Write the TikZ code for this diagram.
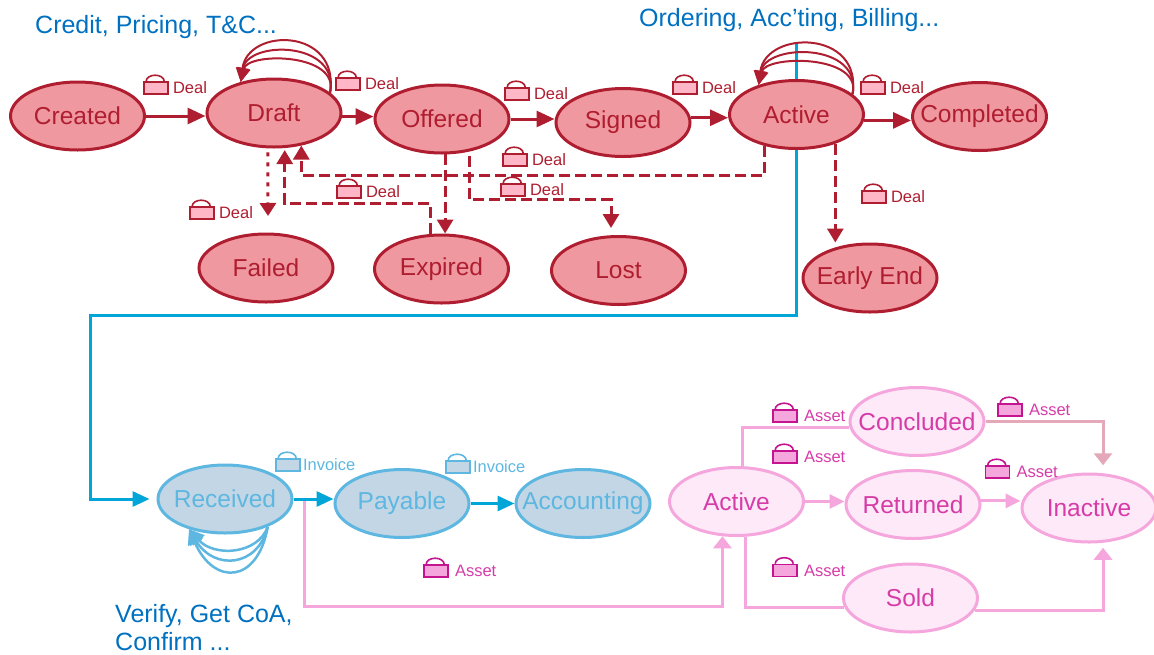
\documentclass[tikz,border=0pt]{standalone}
\usepackage{fontspec}
\setmainfont{Liberation Sans}
\usepackage{tikz}
\usetikzlibrary{positioning, arrows.meta, shapes.geometric, backgrounds}
\definecolor{dealline}{HTML}{AF1E30}
\definecolor{dealfill}{HTML}{F0989F}
\definecolor{dealbag}{HTML}{FFB6C6}
\definecolor{invline}{HTML}{5DB7E0}
\definecolor{invfill}{HTML}{C3D6E5}
\definecolor{invarrow}{HTML}{00A6D8}
\definecolor{assetline}{HTML}{F5A6DC}
\definecolor{assetfill}{HTML}{FDE9F7}
\definecolor{assettext}{HTML}{D63CA8}
\definecolor{assetbag}{HTML}{C4148F}
\definecolor{assetmute}{HTML}{E5A8B8}
\definecolor{notetext}{HTML}{0070C0}

\begin{document}
\begin{tikzpicture}[x=1pt, y=-1pt,
    state/.style={ellipse, line width=3pt, minimum width=134pt, minimum height=68pt, inner xsep=-45pt, inner ysep=-12pt, font=\fontsize{24.5}{28}\selectfont},
    dealstate/.style={state, draw=dealline, fill=dealfill, text=dealline},
    invstate/.style={state, draw=invline, fill=invfill, text=invline},
    assetstate/.style={state, draw=assetline, fill=assetfill, text=assettext},
    bag/.style={rectangle, line width=1.6pt, minimum width=24pt, minimum height=12pt, inner sep=0pt},
    baglabel/.style={inner sep=0pt, font=\fontsize{16.5}{18}\selectfont},
    note/.style={inner sep=0pt, anchor=west, align=left, text=notetext, font=\fontsize{25}{28}\selectfont},
    dealarrow/.style={draw=dealline, line width=3pt, -{Triangle[length=18pt,width=16pt]}},
    dealdash/.style={dealarrow, dash pattern=on 11pt off 5pt, -{Triangle[length=14pt,width=16pt]}},
    dealdot/.style={dealarrow, dash pattern=on 4pt off 6pt, -{Triangle[length=13pt,width=16pt]}},
    invarrowline/.style={draw=invarrow, line width=3pt, -{Triangle[length=17pt,width=15pt]}},
    assetarrow/.style={draw=assetline, line width=3pt, -{Triangle[length=12pt,width=18pt]}},
    assetside/.style={draw=assetline, line width=3pt, -{Triangle[length=15pt,width=14pt]}},
    assetplain/.style={draw=assetline, line width=3pt}]
    \useasboundingbox (0,0) rectangle (1154,654);

    % deal states
    \node[dealstate] (Created) at (77.5,116) {Created};
    \node[dealstate] (Draft) at (274,113) {Draft};
    \node[dealstate] (Offered) at (442,119) {Offered};
    \node[dealstate] (Signed) at (623,122.5) {Signed};
    \node[dealstate] (Active) at (796.5,114.5) {Active};
    \node[dealstate] (Completed) at (979.5,116.5) {Completed};
    \node[dealstate] (Failed) at (266,268) {Failed};
    \node[dealstate] (Expired) at (441.5,269) {Expired};
    \node[dealstate] (Lost) at (618.5,270.5) {Lost};
    \node[dealstate] (EarlyEnd) at (870,278) {Early End};

    % invoice states
    \node[invstate] (Received) at (225,499) {Received};
    \node[invstate] (Payable) at (402,503.5) {Payable};
    \node[invstate] (Accounting) at (583,503.5) {Accounting};

    % asset states
    \node[assetstate] (AssetActive) at (736.5,501.5) {Active};
    \node[assetstate] (Concluded) at (917,421.5) {Concluded};
    \node[assetstate] (Returned) at (913,504.5) {Returned};
    \node[assetstate] (Inactive) at (1089,508) {Inactive};
    \node[assetstate] (Sold) at (910.5,598) {Sold};

    \node[note] (DealNote) at (35,27) {Credit, Pricing, T\&C...};
    \node[note] (ActiveNote) at (639,20) {Ordering, Acc’ting, Billing...};
    \node[note] (InvoiceNote) at (115,628) {Verify, Get CoA,\\Confirm ...};

    \coordinate (BlueTop) at (796.5,43);
    \coordinate (BlueTurn) at (90,315);
    \begin{scope}[on background layer]
    \draw[invarrowline, shorten >=7pt] (BlueTop) |- (BlueTurn) |- (Received.west);
    \end{scope}

    \draw[dealarrow] (Created.east) -- (Created.east -| Draft.west);
    \draw[dealarrow] (Draft.-3) -- (Draft.-3 -| Offered.west);
    \draw[dealarrow] (Offered.east) -- (Offered.east -| Signed.west);
    \draw[dealarrow] (Signed.4) -- (Signed.4 -| Active.west);
    \draw[dealarrow] (Active.-5) -- (Active.-5 -| Completed.west);

    \foreach \h in {65,52,40}
    {
    \draw[draw=dealline, line width=2pt, -{Triangle[length=14pt,width=13pt]}] (Draft.20) .. controls +(10,-\h) and +(7,{10-\h}) .. (Draft.137);
    \draw[draw=dealline, line width=2pt, -{Triangle[length=14pt,width=13pt]}] (Active.20) .. controls +(10,-\h) and +(7,{10-\h}) .. (Active.142);
    }
    \foreach \h in {57,41,28}
    {
    \draw[draw=invline, line width=2.5pt, -{Triangle[length=15pt,width=15pt]}] (Received.-33) .. controls +(-10,\h) and +(25,\h) .. (Received.-140);
    }

    \coordinate (FailedIn) at (268,216);
    \coordinate (LostIn) at (611,228);
    \draw[dealdot, shorten <=4pt] (Draft.-100) -- (FailedIn);
    \draw[dealdash, shorten >=2pt] (Expired.107) -- ++(0,-30) -| (Draft.-73);
    \draw[dealdash] (Active.-136) -- ++(0,29.5) -| (Draft.-50);
    \draw[dealdash] (Offered.-85) -- (Offered.-85 |- Expired.north);
    \draw[dealdash, shorten <=4pt] (Offered.-50) -- ++(0,48) -| (LostIn);
    \draw[dealdash] (Active.-37) -- (Active.-37 |- EarlyEnd.north);

    \coordinate (AssetFork) at (304.5,501);
    \draw[assetarrow] (AssetFork) -- ++(0,105) -| (AssetActive.-112);
    \draw[invarrowline] (Received.east) -- (Received.east -| Payable.west);
    \draw[invarrowline] (Payable.east) -- (Payable.east -| Accounting.west);

    \draw[assetplain] (AssetActive.80) |- (Concluded.185);
    \draw[assetplain] (AssetActive.-76) |- (Sold.188);
    \draw[assetside] (AssetActive.east) -- (AssetActive.east -| Returned.west);
    \draw[assetside] (Returned.3) -- (Returned.3 -| Inactive.west);
    \draw[assetarrow, draw=assetmute, shorten >=8pt] (Concluded.east) -| (Inactive.68);
    \draw[assetarrow, shorten >=5pt] (Sold.-11) -| (Inactive.-68);

    % bags and their labels
    \foreach \i/\x/\y in {A/156/88, B/348/84, C/517/94, D/685/88, E/873/88, F/515/160, G/513/190, H/349/192, I/202/213, J/874/197}
    {
    \node[bag, draw=dealline, fill=dealbag] (DealBag\i) at (\x,\y) {};
    \draw[dealline, line width=1.6pt] ([xshift=3pt]DealBag\i.north west) arc[start angle=180, end angle=360, x radius=9, y radius=6];
    \node[baglabel, text=dealline, right=4pt of DealBag\i] (DealLabel\i) {Deal};
    }
    \foreach \i/\x/\y in {A/288/465, B/458/467}
    {
    \node[bag, draw=invline, fill=invfill] (InvBag\i) at (\x,\y) {};
    \draw[invline, line width=1.6pt] ([xshift=3pt]InvBag\i.north west) arc[start angle=180, end angle=360, x radius=9, y radius=6];
    \node[baglabel, text=invline, right=2pt of InvBag\i] (InvLabel\i) {Invoice};
    }
    \foreach \i/\x/\y in {A/436/571, B/785/416, C/785/457, D/1010/410, E/997.5/472, F/785/570.5}
    {
    \node[bag, draw=assetbag, fill=assetline] (AssetBag\i) at (\x,\y) {};
    \draw[assetbag, line width=1.6pt] ([xshift=3pt]AssetBag\i.north west) arc[start angle=180, end angle=360, x radius=9, y radius=6];
    \node[baglabel, text=assettext, right=6pt of AssetBag\i] (AssetLabel\i) {Asset};
    }
\end{tikzpicture}
\end{document}
